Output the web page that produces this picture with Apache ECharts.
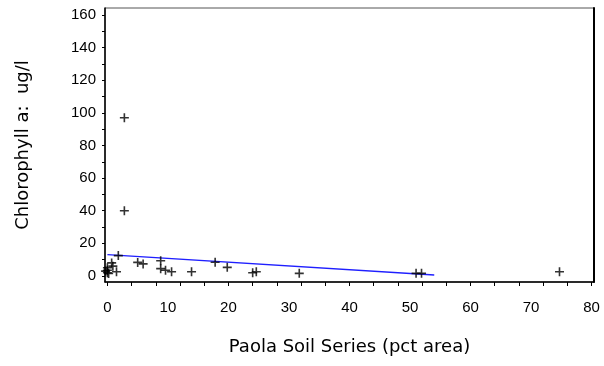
<!DOCTYPE html>
<html>
<head>
<meta charset="utf-8">
<script src="https://cdn.jsdelivr.net/npm/echarts@6/dist/echarts.min.js"></script>
<style>html,body{margin:0;padding:0;background:#fff;}#c{width:604px;height:366px;}</style>
</head>
<body>
<div id="c"></div>
<script>
// Observed points (Paola soil pct area vs chlorophyll a)
var pctArea = [0, 0, 0, 0.2, -0.3, 0.7, 0.9, 1.5, 1.8, 2.8, 2.8, 5.0, 5.9, 8.8, 8.8, 9.6, 10.6, 13.9, 17.8, 19.8, 24.0, 24.6, 31.7, 51.0, 51.9, 74.7];
var chlorophyll = [2, 3.5, 5, 1.5, 3, 8, 6, 2.6, 12.5, 97, 40, 8.3, 7.4, 9.3, 4.5, 3.5, 2.6, 2.6, 8.4, 5.3, 2, 2.6, 1.6, 1.6, 1.6, 2.6];
// Fitted line endpoints
var fitX = [0, 54];
var fitY = [13.1, 0.6];
// Tick labels
var xTickLabels = [0, 10, 20, 30, 40, 50, 60, 70, 80];
var yTickLabels = [0, 20, 40, 60, 80, 100, 120, 140, 160];
var xTicks = [0,4,8,12,16,20,24,28,32,36,40,44,48,52,56,60,64,68,72,76,80];
var yTicks = [0,10,20,30,40,50,60,70,80,90,100,110,120,130,140,150,160];

var pts = pctArea.map(function (x, i) { return [x, chlorophyll[i]]; });
var fit = fitX.map(function (x, i) { return [x, fitY[i]]; });

var chart = echarts.init(document.getElementById('c'));
chart.setOption({
  animation: false,
  backgroundColor: '#fff',
  grid: { left: 105, top: 8, right: 10, bottom: 84, show: true, borderColor: '#555', borderWidth: 1, containLabel: false },
  xAxis: {
    type: 'value', min: -0.4, max: 80.4,
    name: 'Paola Soil Series (pct area)', nameLocation: 'middle', nameGap: 56,
    nameTextStyle: { fontFamily: 'DejaVu Sans', fontSize: 18, color: '#000' },
    axisLine: { show: true, onZero: false, lineStyle: { color: '#000', width: 1.5 } },
    axisTick: { show: true, customValues: xTicks, length: 4, lineStyle: { color: '#000' } },
    axisLabel: { customValues: xTickLabels, margin: 18, fontFamily: 'Liberation Sans', fontSize: 15, color: '#000' },
    splitLine: { show: false }
  },
  yAxis: [{
    type: 'value', min: -3.7, max: 164.3,
    name: 'Chlorophyll a:  ug/l', nameLocation: 'middle', nameGap: 73,
    nameTextStyle: { fontFamily: 'DejaVu Sans', fontSize: 18, color: '#000' },
    axisLine: { show: true, onZero: false, lineStyle: { color: '#000', width: 1.5 } },
    axisTick: { show: true, customValues: yTicks, length: 3, lineStyle: { color: '#000' } },
    axisLabel: { customValues: yTickLabels, margin: 9, fontFamily: 'Liberation Sans', fontSize: 15, color: '#000' },
    splitLine: { show: false }
  }, {
    type: 'value', min: -3.7, max: 164.3, position: 'right',
    axisLine: { show: true, onZero: false, lineStyle: { color: '#000', width: 2 } },
    axisTick: { show: false }, axisLabel: { show: false }, splitLine: { show: false }
  }],
  series: [{
    type: 'scatter',
    data: pts,
    symbol: 'path://M4.1,0H5.9V4.1H10V5.9H5.9V10H4.1V5.9H0V4.1H4.1Z',
    symbolSize: 9,
    itemStyle: { color: '#000' },
    z: 3
  }, {
    type: 'line',
    data: fit,
    showSymbol: false,
    lineStyle: { color: '#1f1fff', width: 1.3 },
    z: 2
  }]
});
</script>
</body>
</html>
